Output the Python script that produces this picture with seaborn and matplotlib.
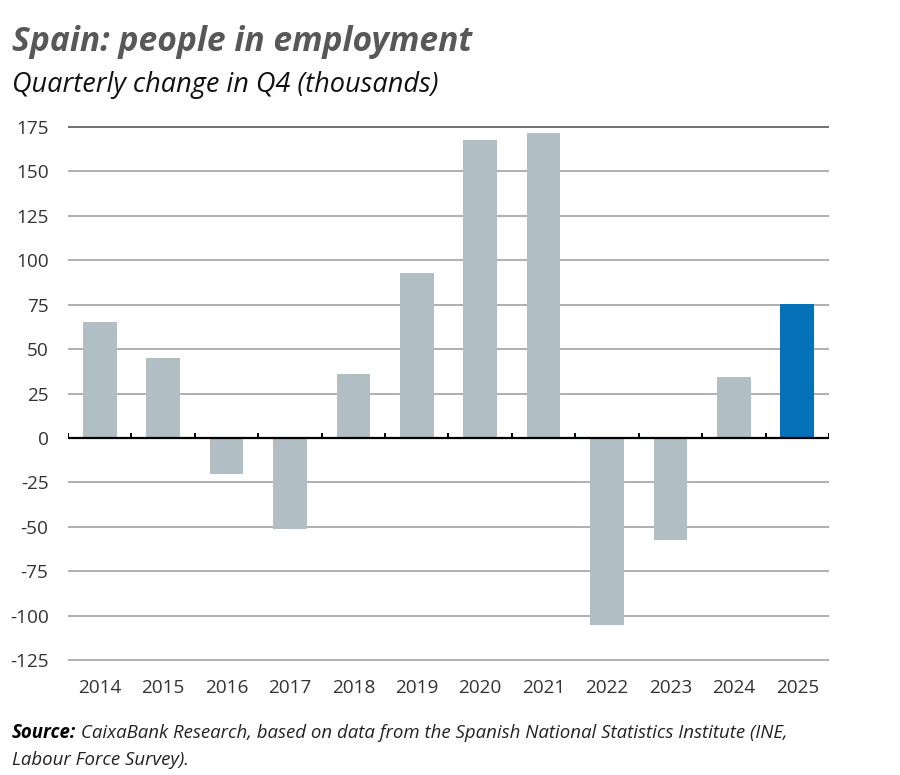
import matplotlib
matplotlib.use("Agg")
import matplotlib.pyplot as plt
import seaborn as sns
import pandas as pd

years = ["2014", "2015", "2016", "2017", "2018", "2019", "2020", "2021", "2022", "2023", "2024", "2025"]
values = [65, 45, -20, -51, 36, 92.5, 167.5, 171.5, -105, -57.5, 34.5, 75.5]
highlight = ["past"] * 11 + ["latest"]
yticks = [-125, -100, -75, -50, -25, 0, 25, 50, 75, 100, 125, 150, 175]

title = "Spain: people in employment"
subtitle = "Quarterly change in Q4 (thousands)"
source_bold = "Source:"
source_rest = " CaixaBank Research, based on data from the Spanish National Statistics Institute (INE,"
source_line2 = "Labour Force Survey)."

df = pd.DataFrame({"year": years, "value": values, "group": highlight})

sns.set_theme(style="white")
plt.rcParams["font.family"] = ["Open Sans", "DejaVu Sans"]

fig = plt.figure(figsize=(9, 7.75), dpi=100)
ax = fig.add_axes([68 / 900, 1 - 662 / 775, (829 - 68) / 900, (662 - 125) / 775])

sns.barplot(data=df, x="year", y="value", hue="group",
            palette={"past": "#b1bec3", "latest": "#0571b8"},
            dodge=False, width=0.53, legend=False, ax=ax, zorder=3,
            edgecolor="none", saturation=1)

ax.set_ylim(-126, 176)
ax.set_xlim(-0.5, len(years) - 0.5)
ax.set_yticks(yticks)
ax.set_yticklabels([str(t) for t in yticks])
for t in yticks:
    if t == 0:
        continue
    ax.axhline(t, color="#666666" if t == 175 else "#a9a9a9", lw=1.3, zorder=1)
ax.axhline(0, color="black", lw=1.6, zorder=4)
bounds = [i - 0.5 for i in range(len(years) + 1)]
ax.vlines(bounds, 0, 2.6, color="black", lw=1.4, zorder=4)

for s in ax.spines.values():
    s.set_visible(False)
ax.tick_params(axis="both", length=0, labelsize=13.7, labelcolor="#333333")
ax.tick_params(axis="y", pad=14)
ax.tick_params(axis="x", pad=12)
ax.set_xlabel("")
ax.set_ylabel("")

fig.text(12 / 900, 1 - 51 / 775, title, fontsize=24.2, fontweight="bold",
         fontstyle="italic", color="#585858", ha="left", va="baseline")
fig.text(12 / 900, 1 - 92 / 775, subtitle, fontsize=19.5, fontstyle="italic",
         color="#111111", ha="left", va="baseline")

t1 = fig.text(12 / 900, 1 - 738 / 775, source_bold, fontsize=13.4, fontweight="bold",
              fontstyle="italic", color="black", ha="left", va="baseline")
fig.canvas.draw()
bb = t1.get_window_extent()
fig.text(bb.x1 / fig.bbox.width, 1 - 738 / 775, source_rest, fontsize=13.4,
         fontstyle="italic", color="#222222", ha="left", va="baseline")
fig.text(12 / 900, 1 - 765 / 775, source_line2, fontsize=13.4,
         fontstyle="italic", color="#222222", ha="left", va="baseline")

fig.savefig("out.png", dpi=100)
